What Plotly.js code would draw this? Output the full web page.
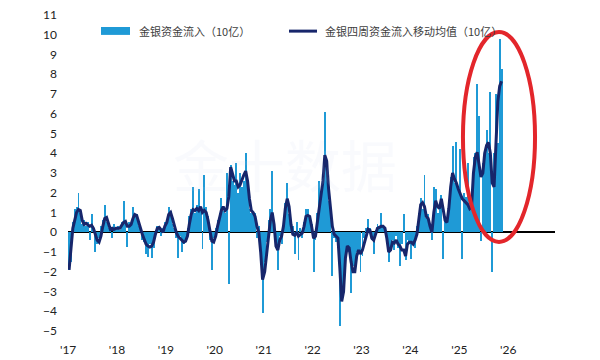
<!DOCTYPE html>
<html><head><meta charset="utf-8">
<script src="https://cdn.plot.ly/plotly-3.0.1.min.js"></script>
<style>html,body{margin:0;padding:0;background:#fff}#chart{width:600px;height:360px}</style>
</head><body><div id="chart"></div>
<script>
const years = [2017, 2018, 2019, 2020, 2021, 2022, 2023, 2024, 2025];
const tickYears = [2017, 2018, 2019, 2020, 2021, 2022, 2023, 2024, 2025, 2026];
const tickLabels = ["'17", "'18", "'19", "'20", "'21", "'22", "'23", "'24", "'25", "'26"];
const barName = '金银资金流入（10亿）';
const lineName = '金银四周资金流入移动均值（10亿）';

// bi-weekly gold & silver flows (bn)
const flow2017 = [-1.9,-1.5,0.5,1.2,1.3,2.0,1.0,0.4,0.6,0.3,0.5,-0.4,0.9,0.3,-1.0,-0.6,-0.3,0.3,0.6,1.4,0.5,0.2,0.3,-0.3,0.4,0.2];
const flow2018 = [0.3,0.1,0.5,1.6,0.4,-0.75,0.5,0.4,1.3,0.8,0.9,0.3,0.0,-0.4,-0.5,-1.1,-1.25,-0.6,-1.3,-0.8,0.1,0.3,0.3,-0.2,0.2,0.5];
const flow2019 = [0.6,1.3,1.1,0.4,0.2,-0.3,-1.3,-0.2,-1.0,-0.6,-0.3,0.2,0.8,1.2,2.3,1.0,1.4,2.2,1.2,-0.85,2.9,1.3,0.8,-0.4,-1.9,-0.3];
const flow2020 = [0.2,0.6,1.0,1.75,1.1,1.0,3.0,-2.6,3.4,2.6,2.4,3.5,2.0,3.0,2.3,2.6,4.0,2.4,1.2,1.0,0.9,1.0,-0.3,0.3,-1.2,-4.1];
const flow2021 = [-1.5,-0.5,0.6,1.2,3.1,0.5,-0.5,-1.9,-0.2,-0.6,0.4,1.5,2.5,0.9,0.2,0.3,-1.1,0.5,-1.4,0.2,-0.3,0.5,1.2,1.2,0.6,0.4];
const flow2022 = [-2.0,-0.4,1.0,2.6,2.0,3.0,6.1,3.0,1.6,1.0,-2.2,-0.3,-0.5,-0.4,-4.75,-3.2,-2.5,-1.2,-0.9,-1.0,-3.1,-1.7,-1.8,-1.0,-1.0,-2.0];
const flow2023 = [-1.2,-0.3,0.2,0.65,0.2,-0.4,-1.1,0.1,0.4,0.3,1.0,0.3,0.1,-0.5,-1.5,-0.8,-0.4,-0.9,-0.2,-0.8,-1.7,-0.6,0.9,-1.4,-0.4,-0.6];
const flow2024 = [-1.35,-0.5,-0.8,0.3,1.0,1.75,1.2,2.9,0.7,0.9,0.2,-0.4,2.3,2.2,1.0,1.3,1.9,-1.35,0.8,0.6,1.5,2.8,4.35,2.5,4.55,2.3];
const flow2025 = [4.2,-1.35,2.0,1.8,3.5,1.5,2.0,3.8,4.0,7.5,5.9,-0.45,3.5,4.0,5.2,4.0,7.1,-2.0,4.0,7.0,4.5,9.8,8.25];

// four-week moving average (bn)
const ma2017 = [-1.9,-1.0,0.2,0.6,1.0,1.15,1.1,0.6,0.4,0.45,0.35,0.3,0.35,0.2,-0.1,-0.4,-0.5,-0.2,0.3,0.7,0.75,0.4,0.15,0.2,0.15,0.2];
const ma2018 = [0.2,0.2,0.35,0.5,0.55,0.3,0.3,0.4,0.7,0.9,0.85,0.5,0.2,-0.1,-0.35,-0.6,-0.7,-0.75,-0.7,-0.5,-0.1,0.2,0.25,0.1,0.0,0.3];
const ma2019 = [0.5,0.9,1.0,0.7,0.3,0.0,-0.2,-0.3,-0.4,-0.5,-0.45,-0.2,0.4,0.9,1.15,1.1,1.2,1.1,1.3,1.0,1.1,1.0,0.6,0.0,-0.45,-0.5];
const ma2020 = [-0.2,0.3,0.8,1.1,1.3,1.1,1.2,1.8,3.3,3.0,2.6,2.6,2.3,2.4,2.7,2.9,3.1,2.6,1.7,1.1,1.0,0.8,0.3,0.0,-1.0,-2.4];
const ma2021 = [-2.0,-1.0,0.0,0.6,1.0,0.4,-0.7,-0.9,-0.4,-0.2,0.3,1.2,1.7,1.3,0.4,-0.1,-0.15,0.0,-0.2,-0.1,-0.05,0.3,0.8,0.85,0.8,0.3];
const ma2022 = [-0.3,-0.2,0.5,1.4,1.85,2.6,3.9,3.6,2.2,1.3,0.3,-0.1,-0.2,-0.3,-1.8,-3.5,-3.0,-1.3,-0.7,-0.8,-1.5,-2.0,-2.0,-1.2,-0.9,-1.1];
const ma2023 = [-0.9,-0.5,-0.1,0.15,0.1,-0.3,-0.4,-0.1,0.2,0.25,0.3,0.3,0.2,-0.3,-1.0,-0.9,-0.5,-0.55,-0.4,-0.6,-0.7,-0.9,-0.9,-1.2,-0.6,-0.5];
const ma2024 = [-0.5,-0.6,-0.4,-0.1,0.7,1.4,1.5,1.3,0.8,0.7,0.3,0.0,1.0,1.6,1.3,1.2,1.7,1.1,0.6,0.5,1.2,2.3,3.0,2.7,2.5,2.2];
const ma2025 = [1.9,1.7,1.6,1.5,1.4,1.2,1.3,3.0,3.8,4.05,3.3,2.8,3.0,4.0,4.4,4.55,4.0,2.5,2.3,4.5,6.6,7.4,7.65];

const flowByYear = [flow2017, flow2018, flow2019, flow2020, flow2021, flow2022, flow2023, flow2024, flow2025];
const maByYear = [ma2017, ma2018, ma2019, ma2020, ma2021, ma2022, ma2023, ma2024, ma2025];

const dates = [], flows = [], mas = [];
years.forEach((y, i) => {
  flowByYear[i].forEach((v, k) => {
    const d = new Date(Date.UTC(y, 0, 8 + 14 * k));
    dates.push(d.toISOString().slice(0, 10));
    flows.push(v);
    mas.push(maByYear[i][k]);
  });
});

const tickFont = {family: 'Lato, "Liberation Sans", sans-serif', size: 12, color: '#222'};
const cjk = '"Noto Sans CJK SC", sans-serif';

const traces = [
  {type: 'bar', x: dates, y: flows, name: barName, width: 14 * 86400000,
   marker: {color: '#1f9ad6', line: {width: 0}}, showlegend: false, hoverinfo: 'x+y'},
  {type: 'scatter', mode: 'lines', x: dates, y: mas, name: lineName,
   line: {color: '#17266b', width: 3}, showlegend: false}
];

const layout = {
  width: 600, height: 360,
  margin: {l: 68, r: 45, t: 15, b: 29},
  paper_bgcolor: '#fff', plot_bgcolor: '#fff',
  bargap: 0,
  showlegend: false,
  xaxis: {
    type: 'date', range: ['2016-12-31', '2026-12-16'],
    tickvals: tickYears.map(y => y + '-01-01'), ticktext: tickLabels,
    showgrid: false, zeroline: false, showline: false, ticks: '',
    tickfont: tickFont, ticklabelstandoff: 10
  },
  yaxis: {
    range: [-5, 11], tick0: 0, dtick: 1,
    showgrid: false, zeroline: true, zerolinecolor: '#000', zerolinewidth: 2,
    showline: false, ticks: '', tickfont: tickFont, ticklabelstandoff: 10
  },
  shapes: [
    {type: 'rect', xref: 'paper', yref: 'paper', x0: 0.0678, x1: 0.1273, y0: 0.937, y1: 0.962,
     fillcolor: '#1f9ad6', line: {width: 0}},
    {type: 'line', xref: 'paper', yref: 'paper', x0: 0.4538, x1: 0.5113, y0: 0.949, y1: 0.949,
     line: {color: '#17266b', width: 3}},
    {type: 'circle', xref: 'paper', yref: 'paper', x0: 0.811, x1: 0.959, y0: 0.282, y1: 0.946,
     line: {color: '#e3262b', width: 4}}
  ],
  annotations: [
    {xref: 'paper', yref: 'paper', x: 0.445, y: 0.668, text: '金十数据', showarrow: false,
     font: {family: cjk, size: 56, color: 'rgba(200,210,235,0.1)'}},
    {xref: 'paper', yref: 'paper', x: 0.1417, y: 0.949, xanchor: 'left', yanchor: 'middle',
     text: barName, showarrow: false, font: {family: cjk, size: 11, color: '#404040'}},
    {xref: 'paper', yref: 'paper', x: 0.5236, y: 0.949, xanchor: 'left', yanchor: 'middle',
     text: lineName, showarrow: false, font: {family: cjk, size: 11, color: '#404040'}}
  ]
};

Plotly.newPlot('chart', traces, layout, {staticPlot: true, displayModeBar: false});
</script>
</body></html>
